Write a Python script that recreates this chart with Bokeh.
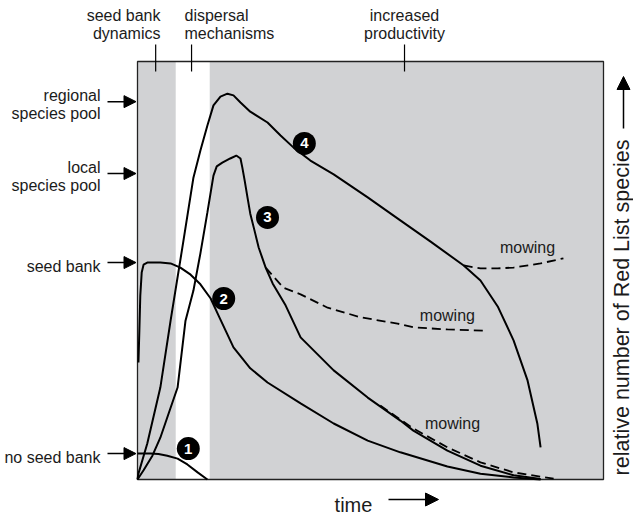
import numpy as np
from bokeh.plotting import figure
from bokeh.models import Arrow, NormalHead, Range1d
from bokeh.core.properties import value
from bokeh.embed import file_html
from bokeh.resources import INLINE

# ---- data: time (0-100) vs relative number of Red List species (0-100) ----
# curve 1: no seed bank
c1_t = [0, 2.8, 4.5, 6.4, 8.6, 10.7, 12.9, 15.0]
c1_r = [6.2, 6.2, 6.1, 5.7, 5.0, 3.6, 1.7, 0.0]
# curve 2: seed bank
c2_t = [0.2, 0.4, 0.6, 0.9, 1.3, 2.1, 4.9, 7.1, 9.2, 11.4, 13.5, 15.7, 17.4, 20.6, 24.2, 27.9,
        35.0, 42.1, 49.4, 56.4, 66.5, 73.6, 80.7, 86.5]
c2_r = [28.0, 35.6, 44.0, 49.5, 51.4, 51.9, 51.9, 51.7, 50.7, 49.0, 46.7, 43.3, 39.2, 31.6, 26.6, 23.2,
        18.2, 13.4, 9.3, 6.5, 3.1, 1.4, 0.5, 0.0]
# curve 3: local species pool
c3_t = [0, 1.3, 3.2, 4.9, 6.9, 8.6, 10.3, 12.0, 13.5, 15.0, 16.3, 17.0, 18.2, 19.9, 21.2, 22.1, 22.5,
        23.0, 23.6, 24.2, 25.1, 26.0, 27.5, 29.0, 31.8, 35.0, 42.1, 49.4, 56.4, 59.2, 66.5, 73.6, 80.7, 86.5]
c3_r = [0, 2.2, 5.7, 10.0, 16.5, 22.0, 38.0, 45.2, 54.1, 63.9, 72.7, 74.9, 75.8, 76.8, 77.5, 76.8, 74.6,
        71.5, 67.5, 63.6, 59.6, 55.5, 50.7, 46.9, 41.6, 34.0, 26.1, 19.6, 14.1, 11.7, 6.9, 3.3, 1.0, 0.1]
# curve 4: regional species pool
c4_t = [0, 0.2, 2.1, 4.9, 7.1, 9.7, 12.0, 13.5, 15.0, 16.3, 17.8, 19.3, 20.6, 22.1, 24.2, 27.9, 30.7,
        33.5, 37.1, 42.1, 49.4, 56.4, 62.9, 70.0, 73.6, 77.3, 80.7, 83.7, 85.8, 86.5]
c4_r = [0, 1.4, 8.6, 22.0, 38.0, 56.0, 72.2, 78.7, 84.7, 89.5, 91.6, 92.3, 91.9, 90.2, 88.0, 85.4, 82.3,
        79.4, 76.3, 73.0, 67.5, 62.0, 56.9, 51.2, 47.6, 41.4, 33.3, 23.7, 13.4, 7.7]
# mowing branches (dashed)
m4_t = [70.0, 73.6, 77.3, 80.7, 86.5, 91.4]
m4_r = [51.2, 50.5, 50.5, 50.7, 51.7, 52.9]
m3a_t = [27.5, 31.3, 35.0, 40.8, 47.9, 55.8, 59.2, 66.5, 74.2]
m3a_r = [50.7, 45.9, 44.3, 41.1, 38.8, 37.3, 36.4, 35.9, 35.6]
m3b_t = [52.1, 59.2, 66.5, 73.6, 80.7, 89.3]
m3b_r = [17.7, 12.2, 7.7, 4.1, 1.7, 0.2]
mow_t = [83.7, 66.5, 67.6]
mow_r = [55.5, 39.2, 13.4]

# numbered markers
num_labels = ["1", "2", "3", "4"]
num_t = [10.9, 18.5, 27.9, 35.8]
num_r = [7.4, 43.3, 62.7, 80.4]

# species-pool levels (left)
level_labels = [["regional", "species pool"], ["local", "species pool"], ["seed bank"], ["no seed bank"]]
level_r = [90.4, 73.2, 51.9, 6.2]

# phases (top)
phase_labels = [["seed bank", "dynamics"], ["dispersal", "mechanisms"], ["increased", "productivity"]]
phase_t = [3.9, 11.6, 57.3]
band_edges = [0, 8.2, 15.5, 100]   # gray | white | gray

# ---- layout (page pixels; the Bokeh page has no body margin) ----
W, H = 633, 515
BOX_L, BOX_R, BOX_T, BOX_B = 137, 603, 61, 479
sx = (BOX_R - BOX_L) / 100.0
sy = (BOX_B - BOX_T) / 100.0
def tx(px):  # page px -> data x
    return (px - BOX_L) / sx
def ry(py):  # page px -> data y
    return (BOX_B - py) / sy

p = figure(width=W, height=H, x_range=Range1d(-BOX_L / sx, (W - BOX_L) / sx),
           y_range=Range1d(-(H - BOX_B) / sy, 100 + BOX_T / sy),
           output_backend="svg", toolbar_location=None, min_border=0,
           x_axis_type=None, y_axis_type=None)
p.grid.visible = False
p.outline_line_color = None
p.background_fill_color = "white"
p.border_fill_color = "white"

GRAY = "#d1d2d4"
FONT = value("Liberation Sans")
INK = "#1b1b1b"

p.quad(left=[band_edges[0], band_edges[2]], right=[band_edges[1], band_edges[3]],
       bottom=0, top=100, fill_color=GRAY, line_color=None)
p.quad(left=[0], right=[100], bottom=[0], top=[100], fill_color=None, line_color="#222222", line_width=1.3)

for t, r in [(c1_t, c1_r), (c2_t, c2_r), (c3_t, c3_r), (c4_t, c4_r)]:
    p.line(t, r, line_color="black", line_width=2)
for t, r in [(m4_t, m4_r), (m3a_t, m3a_r), (m3b_t, m3b_r)]:
    p.line(t, r, line_color="black", line_width=1.8, line_dash="9 5")

p.text(x=mow_t, y=mow_r, text=["mowing"] * 3, text_font=FONT, text_font_size="16px",
       text_align="center", text_baseline="middle", text_color=INK)

p.scatter(x=num_t, y=num_r, size=23, fill_color="black", line_color=None)
p.text(x=num_t, y=num_r, text=num_labels, text_font=FONT, text_font_size="15px",
       text_font_style="bold", text_align="center", text_baseline="middle", text_color="white")

# left level labels with arrows
lx, ly, lt = [], [], []
for lab, r in zip(level_labels, level_r):
    if len(lab) == 2:
        lx += [tx(100), tx(100)]
        ly += [r + 6 / sy, r - 12 / sy]
    else:
        lx += [tx(100)]
        ly += [r - 4 / sy]
    lt += lab
    p.add_layout(Arrow(end=NormalHead(size=12, fill_color="black", line_color="black"),
                       x_start=tx(107), y_start=r, x_end=tx(135.5), y_end=r,
                       line_color="black", line_width=1.5))
p.text(x=lx, y=ly, text=lt, text_font=FONT, text_font_size="16px", text_align="right",
       text_baseline="alphabetic", text_color=INK)

# top phase labels with ticks
aligns = ["right", "left", "center"]
anchors = [160, 184, 404]
for lab, t, al, ax in zip(phase_labels, phase_t, aligns, anchors):
    p.text(x=[tx(ax), tx(ax)], y=[ry(15), ry(33)], text=lab, text_font=FONT, text_font_size="16px",
           text_align=al, text_baseline="alphabetic", text_color=INK)
p.segment(x0=phase_t, y0=[ry(44)] * 3, x1=phase_t, y1=[100 - 10 / sy] * 3, line_color="black", line_width=1.2)

# axis titles
p.text(x=[tx(353)], y=[ry(504)], text=["time"], text_font=FONT, text_font_size="20px",
       text_align="center", text_baseline="alphabetic", text_color=INK)
p.add_layout(Arrow(end=NormalHead(size=13, fill_color="black", line_color="black"),
                   x_start=tx(388), y_start=ry(499), x_end=tx(438), y_end=ry(499),
                   line_color="black", line_width=1.5))
p.text(x=[tx(621)], y=[ry(307)], text=["relative number of Red List species"], angle=np.pi / 2,
       text_font=FONT, text_font_size="21.5px", text_align="center", text_baseline="middle", text_color=INK)
p.add_layout(Arrow(end=NormalHead(size=13, fill_color="black", line_color="black"),
                   x_start=tx(623), y_start=ry(128), x_end=tx(623), y_end=ry(76),
                   line_color="black", line_width=1.5))

open("out.html", "w").write(file_html(p, INLINE))
